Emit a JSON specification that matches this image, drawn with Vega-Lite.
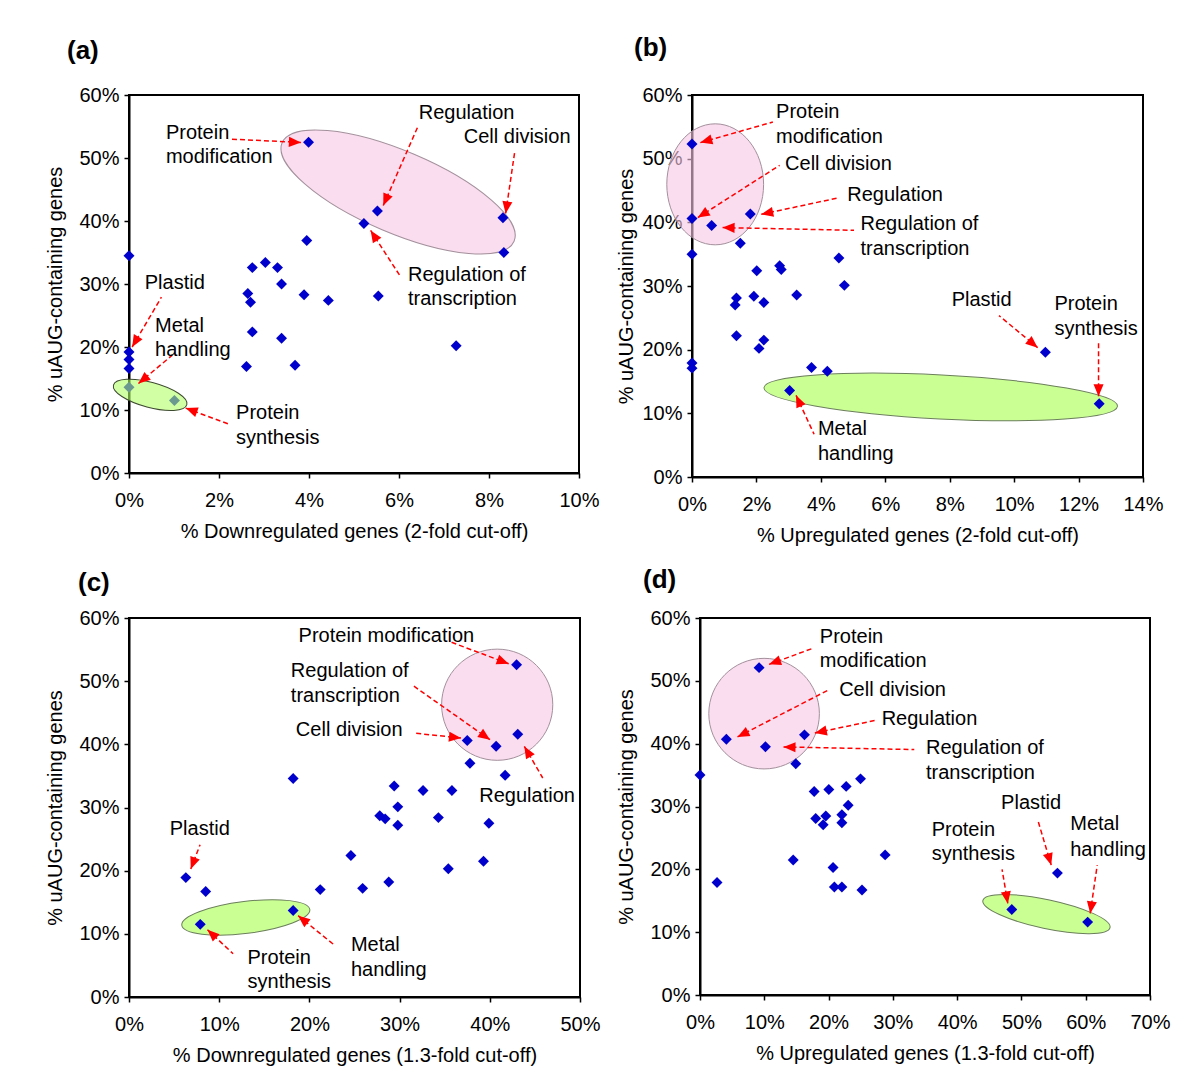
{
  "$schema": "https://vega.github.io/schema/vega-lite/v6.json",
  "background": "white",
  "padding": {"left": 44, "top": 34, "right": 0, "bottom": 0},
  "config": {
    "font": "Liberation Sans",
    "view": {"stroke": "black", "strokeWidth": 2},
    "axis": {"grid": false, "domainColor": "black", "domainWidth": 2, "tickColor": "black", "tickWidth": 1.5, "tickSize": 5, "labelFont": "Liberation Sans", "labelFontSize": 20, "labelColor": "black", "labelFlush": false, "labelOverlap": false, "titleFont": "Liberation Sans", "titleFontSize": 20, "titleFontWeight": "normal", "titleColor": "black"},
    "axisX": {"labelPadding": 12, "titlePadding": 11},
    "axisY": {"labelPadding": 5, "titleBaseline": "middle"},
    "title": {"font": "Liberation Sans", "fontSize": 26, "fontWeight": "bold", "anchor": "start", "frame": "group", "color": "black", "baseline": "middle"}
  },
  "datasets": {
    "pts": [
      {"p": "a", "x": 3.99, "y": 52.5}, {"p": "a", "x": 5.52, "y": 41.6}, {"p": "a", "x": 5.22, "y": 39.6}, {"p": "a", "x": 8.31, "y": 40.5},
      {"p": "a", "x": 3.95, "y": 36.9}, {"p": "a", "x": 8.33, "y": 35.0}, {"p": "a", "x": 0, "y": 34.5}, {"p": "a", "x": 2.74, "y": 32.6},
      {"p": "a", "x": 3.03, "y": 33.4}, {"p": "a", "x": 3.30, "y": 32.6}, {"p": "a", "x": 3.39, "y": 30.0}, {"p": "a", "x": 2.64, "y": 28.5},
      {"p": "a", "x": 2.70, "y": 27.1}, {"p": "a", "x": 3.89, "y": 28.3}, {"p": "a", "x": 4.43, "y": 27.4}, {"p": "a", "x": 5.54, "y": 28.1},
      {"p": "a", "x": 2.74, "y": 22.4}, {"p": "a", "x": 3.39, "y": 21.4}, {"p": "a", "x": 7.27, "y": 20.2}, {"p": "a", "x": 2.61, "y": 16.9},
      {"p": "a", "x": 3.69, "y": 17.1}, {"p": "a", "x": 0, "y": 19.2}, {"p": "a", "x": 0, "y": 18.0}, {"p": "a", "x": 0, "y": 16.6},
      {"p": "a", "x": 0, "y": 13.6}, {"p": "a", "x": 1.01, "y": 11.5},
      {"p": "b", "x": 0, "y": 52.3}, {"p": "b", "x": 0, "y": 40.6}, {"p": "b", "x": 1.81, "y": 41.3}, {"p": "b", "x": 0.61, "y": 39.5},
      {"p": "b", "x": 1.50, "y": 36.7}, {"p": "b", "x": 0, "y": 35.0}, {"p": "b", "x": 4.56, "y": 34.4}, {"p": "b", "x": 2.72, "y": 33.2},
      {"p": "b", "x": 2.77, "y": 32.6}, {"p": "b", "x": 2.01, "y": 32.4}, {"p": "b", "x": 4.73, "y": 30.1}, {"p": "b", "x": 1.92, "y": 28.4},
      {"p": "b", "x": 3.25, "y": 28.6}, {"p": "b", "x": 1.38, "y": 28.1}, {"p": "b", "x": 1.34, "y": 27.0}, {"p": "b", "x": 2.23, "y": 27.4},
      {"p": "b", "x": 1.38, "y": 22.2}, {"p": "b", "x": 2.23, "y": 21.5}, {"p": "b", "x": 2.08, "y": 20.2}, {"p": "b", "x": 0, "y": 17.9},
      {"p": "b", "x": 0, "y": 17.1}, {"p": "b", "x": 3.71, "y": 17.2}, {"p": "b", "x": 4.20, "y": 16.6}, {"p": "b", "x": 3.03, "y": 13.6},
      {"p": "b", "x": 10.97, "y": 19.6}, {"p": "b", "x": 12.64, "y": 11.5},
      {"p": "c", "x": 42.97, "y": 52.6}, {"p": "c", "x": 43.1, "y": 41.6}, {"p": "c", "x": 37.5, "y": 40.6}, {"p": "c", "x": 40.7, "y": 39.7},
      {"p": "c", "x": 37.8, "y": 37.0}, {"p": "c", "x": 41.7, "y": 35.1}, {"p": "c", "x": 18.2, "y": 34.6}, {"p": "c", "x": 29.4, "y": 33.4},
      {"p": "c", "x": 32.6, "y": 32.7}, {"p": "c", "x": 35.8, "y": 32.7}, {"p": "c", "x": 29.8, "y": 30.1}, {"p": "c", "x": 27.8, "y": 28.7},
      {"p": "c", "x": 28.4, "y": 28.2}, {"p": "c", "x": 34.3, "y": 28.4}, {"p": "c", "x": 29.8, "y": 27.2}, {"p": "c", "x": 39.9, "y": 27.5},
      {"p": "c", "x": 24.6, "y": 22.4}, {"p": "c", "x": 39.3, "y": 21.5}, {"p": "c", "x": 35.4, "y": 20.3}, {"p": "c", "x": 6.3, "y": 18.9},
      {"p": "c", "x": 8.5, "y": 16.7}, {"p": "c", "x": 21.2, "y": 17.0}, {"p": "c", "x": 25.9, "y": 17.2}, {"p": "c", "x": 28.8, "y": 18.2},
      {"p": "c", "x": 18.2, "y": 13.7}, {"p": "c", "x": 7.9, "y": 11.5},
      {"p": "d", "x": 9.19, "y": 52.1}, {"p": "d", "x": 4.10, "y": 40.7}, {"p": "d", "x": 16.25, "y": 41.4}, {"p": "d", "x": 10.18, "y": 39.5},
      {"p": "d", "x": 14.9, "y": 36.8}, {"p": "d", "x": 0, "y": 35.0}, {"p": "d", "x": 24.97, "y": 34.4}, {"p": "d", "x": 22.74, "y": 33.2},
      {"p": "d", "x": 20.04, "y": 32.7}, {"p": "d", "x": 17.76, "y": 32.4}, {"p": "d", "x": 23.05, "y": 30.2}, {"p": "d", "x": 19.57, "y": 28.5},
      {"p": "d", "x": 18.0, "y": 28.1}, {"p": "d", "x": 22.07, "y": 28.7}, {"p": "d", "x": 19.16, "y": 27.1}, {"p": "d", "x": 22.07, "y": 27.4},
      {"p": "d", "x": 28.8, "y": 22.3}, {"p": "d", "x": 14.5, "y": 21.5}, {"p": "d", "x": 20.7, "y": 20.3}, {"p": "d", "x": 2.65, "y": 17.9},
      {"p": "d", "x": 20.9, "y": 17.2}, {"p": "d", "x": 22.07, "y": 17.2}, {"p": "d", "x": 25.2, "y": 16.7}, {"p": "d", "x": 55.6, "y": 19.4},
      {"p": "d", "x": 48.5, "y": 13.6}, {"p": "d", "x": 60.3, "y": 11.6}
    ],
    "arrows": [
      {"p": "a", "xs": 2.22, "ys": 53.0, "x": 3.82, "y": 52.47, "angle": 92.7},
      {"p": "a", "xs": 6.41, "ys": 54.84, "x": 5.65, "y": 42.45, "angle": 203.5},
      {"p": "a", "xs": 8.57, "ys": 50.9, "x": 8.37, "y": 41.2, "angle": 188.4},
      {"p": "a", "xs": 6.04, "ys": 31.1, "x": 5.37, "y": 38.5, "angle": 327.3},
      {"p": "a", "xs": 0.72, "ys": 27.9, "x": 0.07, "y": 20.0, "angle": 210.1},
      {"p": "a", "xs": 0.96, "ys": 18.7, "x": 0.21, "y": 14.2, "angle": 230.2},
      {"p": "a", "xs": 2.26, "ys": 7.64, "x": 1.26, "y": 10.3, "angle": 290.4},
      {"p": "b", "xs": 2.51, "ys": 55.76, "x": 0.26, "y": 52.52, "angle": 254.1},
      {"p": "b", "xs": 2.72, "ys": 48.96, "x": 0.18, "y": 40.74, "angle": 237.3},
      {"p": "b", "xs": 4.58, "ys": 43.88, "x": 2.15, "y": 41.26, "angle": 258},
      {"p": "b", "xs": 5.03, "ys": 38.75, "x": 0.95, "y": 39.17, "angle": 271.2},
      {"p": "b", "xs": 9.53, "ys": 25.35, "x": 10.73, "y": 20.32, "angle": 129.6},
      {"p": "b", "xs": 12.62, "ys": 21.05, "x": 12.62, "y": 12.67, "angle": 180},
      {"p": "b", "xs": 3.79, "ys": 6.71, "x": 3.23, "y": 12.83, "angle": 335.6},
      {"p": "c", "xs": 35.5, "ys": 56.29, "x": 42.09, "y": 52.76, "angle": 110.6},
      {"p": "c", "xs": 31.51, "ys": 49.28, "x": 40.02, "y": 40.73, "angle": 125.2},
      {"p": "c", "xs": 31.51, "ys": 41.79, "x": 36.8, "y": 41.0, "angle": 96},
      {"p": "c", "xs": 45.87, "ys": 34.67, "x": 43.83, "y": 39.67, "angle": 329.8},
      {"p": "c", "xs": 7.88, "ys": 24.11, "x": 6.85, "y": 20.26, "angle": 200.9},
      {"p": "c", "xs": 11.54, "ys": 6.85, "x": 8.70, "y": 10.65, "angle": 313.2},
      {"p": "c", "xs": 22.86, "ys": 8.12, "x": 18.75, "y": 12.87, "angle": 309},
      {"p": "d", "xs": 17.66, "ys": 55.22, "x": 10.75, "y": 52.62, "angle": 249.8},
      {"p": "d", "xs": 20.09, "ys": 48.6, "x": 5.83, "y": 41.07, "angle": 242.6},
      {"p": "d", "xs": 27.37, "ys": 43.72, "x": 17.87, "y": 41.7, "angle": 258.2},
      {"p": "d", "xs": 33.33, "ys": 39.06, "x": 12.99, "y": 39.48, "angle": 271.1},
      {"p": "d", "xs": 52.55, "ys": 27.82, "x": 54.63, "y": 20.67, "angle": 163.5},
      {"p": "d", "xs": 46.99, "ys": 19.98, "x": 47.88, "y": 14.58, "angle": 170.5},
      {"p": "d", "xs": 61.79, "ys": 20.67, "x": 60.7, "y": 12.99, "angle": 188.2}
    ],
    "labels": [
      {"p": "a", "t": "Protein", "x": 0.82, "y": 53.96}, {"p": "a", "t": "modification", "x": 0.82, "y": 50.09},
      {"p": "a", "t": "Regulation", "x": 6.44, "y": 57.22}, {"p": "a", "t": "Cell division", "x": 7.44, "y": 53.26},
      {"p": "a", "t": "Regulation of", "x": 6.2, "y": 31.49}, {"p": "a", "t": "transcription", "x": 6.2, "y": 27.69},
      {"p": "a", "t": "Plastid", "x": 0.35, "y": 30.16}, {"p": "a", "t": "Metal", "x": 0.58, "y": 23.31},
      {"p": "a", "t": "handling", "x": 0.58, "y": 19.51}, {"p": "a", "t": "Protein", "x": 2.38, "y": 9.49},
      {"p": "a", "t": "synthesis", "x": 2.38, "y": 5.54},
      {"p": "b", "t": "Protein", "x": 2.61, "y": 57.33}, {"p": "b", "t": "modification", "x": 2.61, "y": 53.4},
      {"p": "b", "t": "Cell division", "x": 2.89, "y": 49.22}, {"p": "b", "t": "Regulation", "x": 4.82, "y": 44.35},
      {"p": "b", "t": "Regulation of", "x": 5.23, "y": 39.8}, {"p": "b", "t": "transcription", "x": 5.23, "y": 35.87},
      {"p": "b", "t": "Plastid", "x": 8.06, "y": 27.86}, {"p": "b", "t": "Protein", "x": 11.25, "y": 27.12},
      {"p": "b", "t": "synthesis", "x": 11.25, "y": 23.2}, {"p": "b", "t": "Metal", "x": 3.91, "y": 7.49},
      {"p": "b", "t": "handling", "x": 3.91, "y": 3.57},
      {"p": "c", "t": "Protein modification", "x": 18.8, "y": 57.08}, {"p": "c", "t": "Regulation of", "x": 17.94, "y": 51.54},
      {"p": "c", "t": "transcription", "x": 17.94, "y": 47.59}, {"p": "c", "t": "Cell division", "x": 18.5, "y": 42.31},
      {"p": "c", "t": "Regulation", "x": 38.83, "y": 31.87}, {"p": "c", "t": "Plastid", "x": 4.52, "y": 26.59},
      {"p": "c", "t": "Protein", "x": 13.14, "y": 6.17}, {"p": "c", "t": "synthesis", "x": 13.14, "y": 2.31},
      {"p": "c", "t": "Metal", "x": 24.6, "y": 8.28}, {"p": "c", "t": "handling", "x": 24.6, "y": 4.32},
      {"p": "d", "t": "Protein", "x": 18.64, "y": 56.96}, {"p": "d", "t": "modification", "x": 18.64, "y": 53.1},
      {"p": "d", "t": "Cell division", "x": 21.65, "y": 48.6}, {"p": "d", "t": "Regulation", "x": 28.26, "y": 43.93},
      {"p": "d", "t": "Regulation of", "x": 35.16, "y": 39.38}, {"p": "d", "t": "transcription", "x": 35.16, "y": 35.34},
      {"p": "d", "t": "Plastid", "x": 46.84, "y": 30.48}, {"p": "d", "t": "Protein", "x": 36.04, "y": 26.23},
      {"p": "d", "t": "synthesis", "x": 36.04, "y": 22.37}, {"p": "d", "t": "Metal", "x": 57.59, "y": 27.14},
      {"p": "d", "t": "handling", "x": 57.59, "y": 23.05}
    ]
  },
  "columns": 2,
  "align": {"row": "all", "column": "none"},
  "spacing": {"row": 20, "column": 13},
  "concat": [
    {
      "width": 450, "height": 378,
      "title": {"text": "(a)", "dx": -62, "offset": 21},
      "encoding": {
        "x": {"field": "x", "type": "quantitative", "scale": {"domain": [0, 10], "nice": false, "zero": false}, "axis": {"title": "% Downregulated genes  (2-fold cut-off)", "values": [0, 2, 4, 6, 8, 10], "labelExpr": "datum.value + '%'"}},
        "y": {"field": "y", "type": "quantitative", "scale": {"domain": [0, 60], "nice": false, "zero": false}, "axis": {"title": "% uAUG-containing  genes", "values": [0, 10, 20, 30, 40, 50, 60], "labelExpr": "datum.value + '%'", "titleX": -74}}
      },
      "layer": [
        {"data": {"values": [{"x": 5.98, "y": 44.6}]}, "mark": {"type": "point", "shape": "M -1 0 C -1 -0.1795 -0.5523 -0.325 0 -0.325 C 0.5523 -0.325 1 -0.1795 1 0 C 1 0.1795 0.5523 0.325 0 0.325 C -0.5523 0.325 -1 0.1795 -1 0 Z", "size": 63504, "angle": 23, "filled": true, "fill": "#f7c6e3", "fillOpacity": 0.6, "stroke": "#a3909c", "strokeWidth": 1, "opacity": 1}},
        {"data": {"name": "pts"}, "transform": [{"filter": "datum.p == 'a'"}], "mark": {"type": "point", "shape": "diamond", "filled": true, "size": 120, "color": "#0000cc", "opacity": 1}},
        {"data": {"values": [{"x": 0.47, "y": 12.4}]}, "mark": {"type": "point", "shape": "M -1 0 C -1 -0.1823 -0.5523 -0.33 0 -0.33 C 0.5523 -0.33 1 -0.1823 1 0 C 1 0.1823 0.5523 0.33 0 0.33 C -0.5523 0.33 -1 0.1823 -1 0 Z", "size": 5776, "angle": 15, "filled": true, "fill": "#b3ff66", "fillOpacity": 0.6, "stroke": "#3d4a30", "strokeWidth": 1, "opacity": 1}},
        {"data": {"name": "arrows"}, "transform": [{"filter": "datum.p == 'a'"}], "mark": {"type": "rule", "color": "#ff0000", "strokeWidth": 1.5, "strokeDash": [5, 3]}, "encoding": {"x2": {"field": "xs"}, "y2": {"field": "ys"}}},
        {"data": {"name": "arrows"}, "transform": [{"filter": "datum.p == 'a'"}], "mark": {"type": "point", "shape": "M 0 0 L -0.42 1 L 0.42 1 Z", "size": 576, "filled": true, "color": "#ff0000", "opacity": 1}, "encoding": {"angle": {"field": "angle", "type": "quantitative", "scale": null}}},
        {"data": {"name": "labels"}, "transform": [{"filter": "datum.p == 'a'"}], "mark": {"type": "text", "align": "left", "baseline": "middle", "fontSize": 20, "font": "Liberation Sans", "color": "black"}, "encoding": {"text": {"field": "t"}}}
      ]
    },
    {
      "width": 451, "height": 382,
      "title": {"text": "(b)", "dx": -58, "offset": 24},
      "encoding": {
        "x": {"field": "x", "type": "quantitative", "scale": {"domain": [0, 14], "nice": false, "zero": false}, "axis": {"title": "% Upregulated genes  (2-fold cut-off)", "values": [0, 2, 4, 6, 8, 10, 12, 14], "labelExpr": "datum.value + '%'"}},
        "y": {"field": "y", "type": "quantitative", "scale": {"domain": [0, 60], "nice": false, "zero": false}, "axis": {"title": "% uAUG-containing  genes", "values": [0, 10, 20, 30, 40, 50, 60], "labelExpr": "datum.value + '%'", "titleX": -66}}
      },
      "layer": [
        {"data": {"values": [{"x": 0.72, "y": 45.97}]}, "mark": {"type": "point", "shape": "M -1 0 C -1 -0.4418 -0.5523 -0.8 0 -0.8 C 0.5523 -0.8 1 -0.4418 1 0 C 1 0.4418 0.5523 0.8 0 0.8 C -0.5523 0.8 -1 0.4418 -1 0 Z", "size": 14641, "angle": 90, "filled": true, "fill": "#f7c6e3", "fillOpacity": 0.6, "stroke": "#a3909c", "strokeWidth": 1, "opacity": 1}},
        {"data": {"values": [{"x": 7.72, "y": 12.57}]}, "mark": {"type": "point", "shape": "M -1 0 C -1 -0.0685 -0.5523 -0.124 0 -0.124 C 0.5523 -0.124 1 -0.0685 1 0 C 1 0.0685 0.5523 0.124 0 0.124 C -0.5523 0.124 -1 0.0685 -1 0 Z", "size": 125316, "angle": 3, "filled": true, "fill": "#b3ff66", "fillOpacity": 0.7, "stroke": "#6b7f5a", "strokeWidth": 1, "opacity": 1}},
        {"data": {"name": "pts"}, "transform": [{"filter": "datum.p == 'b'"}], "mark": {"type": "point", "shape": "diamond", "filled": true, "size": 120, "color": "#0000cc", "opacity": 1}},
        {"data": {"name": "arrows"}, "transform": [{"filter": "datum.p == 'b'"}], "mark": {"type": "rule", "color": "#ff0000", "strokeWidth": 1.5, "strokeDash": [5, 3]}, "encoding": {"x2": {"field": "xs"}, "y2": {"field": "ys"}}},
        {"data": {"name": "arrows"}, "transform": [{"filter": "datum.p == 'b'"}], "mark": {"type": "point", "shape": "M 0 0 L -0.42 1 L 0.42 1 Z", "size": 576, "filled": true, "color": "#ff0000", "opacity": 1}, "encoding": {"angle": {"field": "angle", "type": "quantitative", "scale": null}}},
        {"data": {"name": "labels"}, "transform": [{"filter": "datum.p == 'b'"}], "mark": {"type": "text", "align": "left", "baseline": "middle", "fontSize": 20, "font": "Liberation Sans", "color": "black"}, "encoding": {"text": {"field": "t"}}}
      ]
    },
    {
      "width": 451, "height": 379,
      "title": {"text": "(c)", "dx": -51, "offset": 12},
      "encoding": {
        "x": {"field": "x", "type": "quantitative", "scale": {"domain": [0, 50], "nice": false, "zero": false}, "axis": {"title": "% Downregulated genes  (1.3-fold cut-off)", "values": [0, 10, 20, 30, 40, 50], "labelExpr": "datum.value + '%'"}},
        "y": {"field": "y", "type": "quantitative", "scale": {"domain": [0, 60], "nice": false, "zero": false}, "axis": {"title": "% uAUG-containing  genes", "values": [0, 10, 20, 30, 40, 50, 60], "labelExpr": "datum.value + '%'", "titleX": -74}}
      },
      "layer": [
        {"data": {"values": [{"x": 40.82, "y": 46.27}]}, "mark": {"type": "point", "shape": "M -1 0 C -1 -0.5523 -0.5523 -1 0 -1 C 0.5523 -1 1 -0.5523 1 0 C 1 0.5523 0.5523 1 0 1 C -0.5523 1 -1 0.5523 -1 0 Z", "size": 12365, "filled": true, "fill": "#f7c6e3", "fillOpacity": 0.6, "stroke": "#a3909c", "strokeWidth": 1, "opacity": 1}},
        {"data": {"values": [{"x": 12.95, "y": 12.6}]}, "mark": {"type": "point", "shape": "M -1 0 C -1 -0.137 -0.5523 -0.248 0 -0.248 C 0.5523 -0.248 1 -0.137 1 0 C 1 0.137 0.5523 0.248 0 0.248 C -0.5523 0.248 -1 0.137 -1 0 Z", "size": 16641, "angle": -7, "filled": true, "fill": "#b3ff66", "fillOpacity": 0.7, "stroke": "#6b7f5a", "strokeWidth": 1, "opacity": 1}},
        {"data": {"name": "pts"}, "transform": [{"filter": "datum.p == 'c'"}], "mark": {"type": "point", "shape": "diamond", "filled": true, "size": 120, "color": "#0000cc", "opacity": 1}},
        {"data": {"name": "arrows"}, "transform": [{"filter": "datum.p == 'c'"}], "mark": {"type": "rule", "color": "#ff0000", "strokeWidth": 1.5, "strokeDash": [5, 3]}, "encoding": {"x2": {"field": "xs"}, "y2": {"field": "ys"}}},
        {"data": {"name": "arrows"}, "transform": [{"filter": "datum.p == 'c'"}], "mark": {"type": "point", "shape": "M 0 0 L -0.42 1 L 0.42 1 Z", "size": 576, "filled": true, "color": "#ff0000", "opacity": 1}, "encoding": {"angle": {"field": "angle", "type": "quantitative", "scale": null}}},
        {"data": {"name": "labels"}, "transform": [{"filter": "datum.p == 'c'"}], "mark": {"type": "text", "align": "left", "baseline": "middle", "fontSize": 20, "font": "Liberation Sans", "color": "black"}, "encoding": {"text": {"field": "t"}}}
      ]
    },
    {
      "width": 450, "height": 377,
      "title": {"text": "(d)", "dx": -57, "offset": 15},
      "encoding": {
        "x": {"field": "x", "type": "quantitative", "scale": {"domain": [0, 70], "nice": false, "zero": false}, "axis": {"title": "% Upregulated genes  (1.3-fold cut-off)", "values": [0, 10, 20, 30, 40, 50, 60, 70], "labelExpr": "datum.value + '%'"}},
        "y": {"field": "y", "type": "quantitative", "scale": {"domain": [0, 60], "nice": false, "zero": false}, "axis": {"title": "% uAUG-containing  genes", "values": [0, 10, 20, 30, 40, 50, 60], "labelExpr": "datum.value + '%'", "titleX": -74}}
      },
      "layer": [
        {"data": {"values": [{"x": 9.97, "y": 44.78}]}, "mark": {"type": "point", "shape": "M -1 0 C -1 -0.5523 -0.5523 -1 0 -1 C 0.5523 -1 1 -0.5523 1 0 C 1 0.5523 0.5523 1 0 1 C -0.5523 1 -1 0.5523 -1 0 Z", "size": 12232, "filled": true, "fill": "#f7c6e3", "fillOpacity": 0.6, "stroke": "#a3909c", "strokeWidth": 1, "opacity": 1}},
        {"data": {"values": [{"x": 53.89, "y": 12.88}]}, "mark": {"type": "point", "shape": "M -1 0 C -1 -0.1232 -0.5523 -0.223 0 -0.223 C 0.5523 -0.223 1 -0.1232 1 0 C 1 0.1232 0.5523 0.223 0 0.223 C -0.5523 0.223 -1 0.1232 -1 0 Z", "size": 16900, "angle": 12, "filled": true, "fill": "#b3ff66", "fillOpacity": 0.7, "stroke": "#6b7f5a", "strokeWidth": 1, "opacity": 1}},
        {"data": {"name": "pts"}, "transform": [{"filter": "datum.p == 'd'"}], "mark": {"type": "point", "shape": "diamond", "filled": true, "size": 120, "color": "#0000cc", "opacity": 1}},
        {"data": {"name": "arrows"}, "transform": [{"filter": "datum.p == 'd'"}], "mark": {"type": "rule", "color": "#ff0000", "strokeWidth": 1.5, "strokeDash": [5, 3]}, "encoding": {"x2": {"field": "xs"}, "y2": {"field": "ys"}}},
        {"data": {"name": "arrows"}, "transform": [{"filter": "datum.p == 'd'"}], "mark": {"type": "point", "shape": "M 0 0 L -0.42 1 L 0.42 1 Z", "size": 576, "filled": true, "color": "#ff0000", "opacity": 1}, "encoding": {"angle": {"field": "angle", "type": "quantitative", "scale": null}}},
        {"data": {"name": "labels"}, "transform": [{"filter": "datum.p == 'd'"}], "mark": {"type": "text", "align": "left", "baseline": "middle", "fontSize": 20, "font": "Liberation Sans", "color": "black"}, "encoding": {"text": {"field": "t"}}}
      ]
    }
  ]
}
